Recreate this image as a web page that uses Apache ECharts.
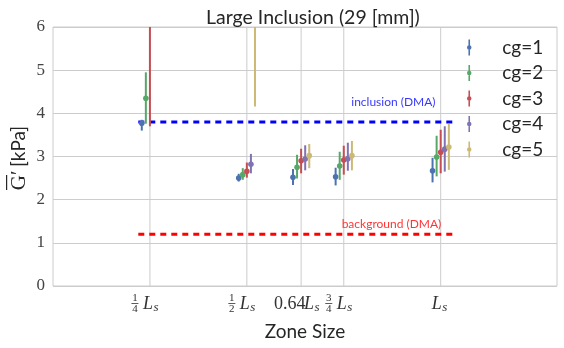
<!DOCTYPE html>
<html>
<head>
<meta charset="utf-8">
<script src="https://cdn.jsdelivr.net/npm/echarts@6/dist/echarts.min.js"></script>
<style>
  html, body { margin: 0; padding: 0; background: #fff; }
  #chart { width: 564px; height: 348px; }
</style>
</head>
<body>
<div id="chart"></div>
<script>
// zone sizes (fraction of Ls) and their tick labels
const zoneX = [0.25, 0.5, 0.64, 0.75, 1.0];
const tickNum = ["1", "1", "", "3", ""];
const tickDen = ["4", "2", "", "4", ""];
const tickCoef = ["", "", "0.64", "", ""];

const groups = ["cg=1", "cg=2", "cg=3", "cg=4", "cg=5"];
const colors = ["#4C72B0", "#55A868", "#C44E52", "#8172B2", "#CCB974"];
const xShift = [-0.021, -0.0105, 0, 0.0105, 0.021];

// mean G' and error bar ends per coarse grain level (null = not shown)
const cg1Mean = [3.77, 2.50, 2.52, 2.53, 2.67];
const cg1Lo   = [3.60, 2.42, 2.34, 2.33, 2.40];
const cg1Hi   = [3.85, 2.60, 2.71, 2.74, 2.97];
const cg2Mean = [4.35, 2.58, 2.75, 2.78, 2.99];
const cg2Lo   = [3.76, 2.46, 2.49, 2.46, 2.54];
const cg2Hi   = [4.95, 2.73, 3.04, 3.11, 3.48];
const cg3Mean = [8.0, 2.66, 2.90, 2.92, 3.10];
const cg3Lo   = [3.70, 2.51, 2.61, 2.58, 2.61];
const cg3Hi   = [12.3, 2.86, 3.18, 3.25, 3.62];
const cg4Mean = [null, 2.82, 2.94, 2.95, 3.17];
const cg4Lo   = [null, 2.61, 2.68, 2.67, 2.65];
const cg4Hi   = [null, 3.06, 3.26, 3.32, 3.70];
const cg5Mean = [null, 7.2, 3.02, 3.02, 3.22];
const cg5Lo   = [null, 4.16, 2.73, 2.68, 2.69];
const cg5Hi   = [null, 10.2, 3.29, 3.36, 3.76];

const means = [cg1Mean, cg2Mean, cg3Mean, cg4Mean, cg5Mean];
const los = [cg1Lo, cg2Lo, cg3Lo, cg4Lo, cg5Lo];
const his = [cg1Hi, cg2Hi, cg3Hi, cg4Hi, cg5Hi];

// reference DMA levels
const inclusionDMA = 3.8;
const backgroundDMA = 1.2;
const dmaSpan = [0.22, 1.04];

const chart = echarts.init(document.getElementById("chart"));

function renderBar(params, api) {
  const x = api.value(0);
  const pLo = api.coord([x, api.value(2)]);
  const pHi = api.coord([x, api.value(3)]);
  const pM = api.coord([x, api.value(1)]);
  const color = api.visual("color");
  return {
    type: "group",
    children: [
      { type: "line", shape: { x1: pLo[0], y1: pLo[1], x2: pHi[0], y2: pHi[1] }, style: { stroke: color, lineWidth: 2 } },
      { type: "circle", shape: { cx: pM[0], cy: pM[1], r: 2.8 }, style: { fill: color } }
    ]
  };
}

// vertical grid line at each zone tick
function renderGrid(params, api) {
  const x = api.value(0);
  const a = api.coord([x, 0]);
  const b = api.coord([x, 6]);
  return { type: "line", shape: { x1: a[0], y1: a[1], x2: b[0], y2: b[1] }, style: { stroke: "#cccccc", lineWidth: 1 } };
}

// tick labels like 1/4 L_s drawn under the axis
function renderTick(params, api) {
  const i = params.dataIndex;
  const p = api.coord([api.value(0), 0]);
  const cx = p[0], yb = p[1];
  const serif = "Liberation Serif";
  const kids = [];
  let lx;
  if (tickNum[i]) {
    const fx = cx - 15;
    kids.push({ type: "text", style: { text: tickNum[i], x: fx, y: yb + 12, align: "center", verticalAlign: "middle", font: "11px " + serif, fill: "#333" } });
    kids.push({ type: "rect", shape: { x: fx - 3.5, y: yb + 17, width: 7, height: 0.8 }, style: { fill: "#333" } });
    kids.push({ type: "text", style: { text: tickDen[i], x: fx, y: yb + 23, align: "center", verticalAlign: "middle", font: "11px " + serif, fill: "#333" } });
    lx = cx - 7;
  } else if (tickCoef[i]) {
    kids.push({ type: "text", style: { text: tickCoef[i], x: cx - 27, y: yb + 18, align: "left", verticalAlign: "middle", font: "18px " + serif, fill: "#333" } });
    lx = cx + 3;
  } else {
    lx = cx - 9;
  }
  kids.push({ type: "text", style: { text: "L", x: lx, y: yb + 18, align: "left", verticalAlign: "middle", font: "italic 18px " + serif, fill: "#333" } });
  kids.push({ type: "text", style: { text: "s", x: lx + 10.5, y: yb + 22, align: "left", verticalAlign: "middle", font: "italic 13px " + serif, fill: "#333" } });
  return { type: "group", children: kids };
}

const barSeries = groups.map(function (name, k) {
  const data = [];
  zoneX.forEach(function (x, j) {
    if (means[k][j] !== null) data.push([x + xShift[k], means[k][j], los[k][j], his[k][j]]);
  });
  return {
    type: "custom",
    name: name,
    renderItem: renderBar,
    clip: true,
    encode: { x: 0, y: 1 },
    itemStyle: { color: colors[k] },
    z: 5,
    data: data
  };
});

// errorbar-like legend marker: vertical stick with a dot
const legendIcon = "path://M4,0h2v20h-2z M5,7.2a2.8,2.8 0 1 1 -0.01,0z";

chart.setOption({
  animation: false,
  color: colors,
  title: {
    text: "Large Inclusion (29 [mm])",
    left: 201,
    top: 3,
    textStyle: { fontFamily: "Lato", fontSize: 19.5, fontWeight: "normal", color: "#262626" }
  },
  legend: {
    data: groups.map(function (g) { return { name: g, icon: legendIcon }; }),
    orient: "vertical",
    left: 467,
    top: 38,
    itemWidth: 8,
    itemHeight: 16,
    itemGap: 6.5,
    padding: 0,
    textStyle: { fontFamily: "Lato", fontSize: 19, color: "#262626", padding: [0, 0, 0, 24] }
  },
  grid: { left: 53, right: 7, top: 27, bottom: 62, show: true, borderColor: "#cccccc", borderWidth: 1 },
  xAxis: {
    type: "value",
    min: 0,
    max: 1.3,
    axisLine: { show: false },
    axisTick: { show: false },
    axisLabel: { show: false },
    splitLine: { show: false },
    name: "Zone Size",
    nameLocation: "middle",
    nameGap: 36,
    nameTextStyle: { fontFamily: "Lato", fontSize: 19, color: "#262626" }
  },
  yAxis: {
    type: "value",
    min: 0,
    max: 6,
    interval: 1,
    axisLine: { show: false },
    axisTick: { show: false },
    axisLabel: { margin: 8, fontFamily: "Liberation Serif", fontSize: 17, color: "#444" },
    splitLine: { lineStyle: { color: "#cccccc", width: 1 } }
  },
  graphic: [
    {
      type: "group",
      x: 19,
      y: 158,
      rotation: Math.PI / 2,
      children: [
        {
          type: "text",
          style: {
            text: "{g|G′} {u|[kPa]}",
            align: "center",
            verticalAlign: "middle",
            rich: {
              g: { fontFamily: "Liberation Serif", fontSize: 21, fill: "#262626" },
              u: { fontFamily: "Lato", fontSize: 19, fill: "#262626" }
            }
          }
        },
        { type: "rect", shape: { x: -32, y: -13, width: 15, height: 1.2 }, style: { fill: "#262626" } }
      ]
    }
  ],
  series: [
    {
      type: "custom",
      renderItem: renderGrid,
      silent: true,
      z: 0,
      encode: { x: 0, y: 1 },
      data: zoneX.map(function (x) { return [x, 0]; })
    },
    {
      type: "custom",
      renderItem: renderTick,
      silent: true,
      clip: false,
      encode: { x: 0, y: 1 },
      data: zoneX.map(function (x) { return [x, 0]; })
    },
    {
      type: "line",
      name: "inclusion (DMA)",
      symbol: "none",
      silent: true,
      z: 4,
      lineStyle: { color: "#0000ff", width: 3, type: [6, 5] },
      data: [[dmaSpan[0], inclusionDMA], [dmaSpan[1], inclusionDMA]]
    },
    {
      type: "line",
      name: "background (DMA)",
      symbol: "none",
      silent: true,
      z: 4,
      lineStyle: { color: "#ff0000", width: 3, type: [6, 5] },
      data: [[dmaSpan[0], backgroundDMA], [dmaSpan[1], backgroundDMA]]
    },
    {
      type: "scatter",
      silent: true,
      symbolSize: 0,
      label: {
        show: true,
        position: "inside",
        formatter: "{b}",
        fontFamily: "Lato",
        fontSize: 12
      },
      data: [
        { name: "inclusion (DMA)", value: [0.878, 4.25], label: { color: "#0000ff" } },
        { name: "background (DMA)", value: [0.873, 1.44], label: { color: "#ff0000" } }
      ]
    }
  ].concat(barSeries)
});
</script>
</body>
</html>
